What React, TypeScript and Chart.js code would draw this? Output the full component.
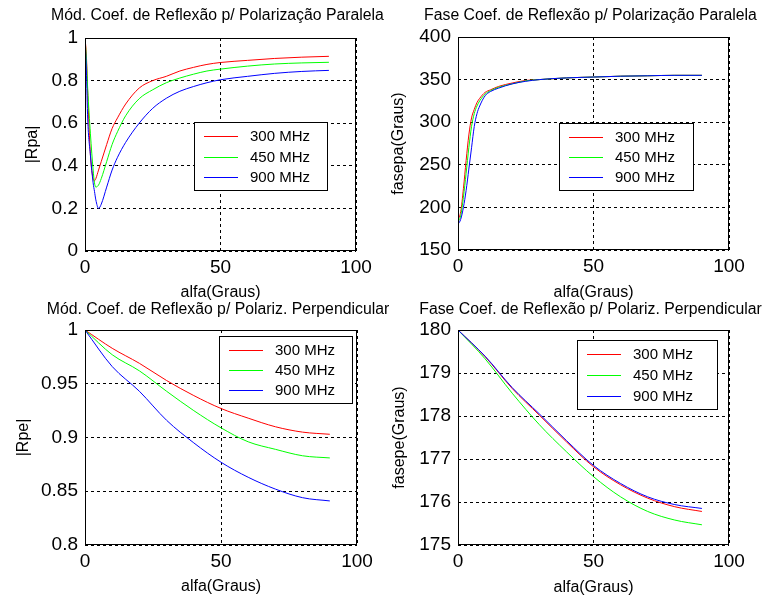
import React, { useEffect, useRef } from "react";
import { Chart, registerables } from "chart.js";

Chart.register(...registerables);

const FONT = '"Liberation Sans", Arial, Helvetica, sans-serif';

// ---------- shared ----------
const seriesLabels = ["300 MHz", "450 MHz", "900 MHz"];
const seriesColors = ["#ff0000", "#00ff00", "#0000ff"];
const xTickValues = [0, 50, 100];
const xAxisTitle = "alfa(Graus)";

// ---------- panel 1: |Rpa| ----------
const alfaRpa = [0, 0.5, 1, 2, 3, 3.5, 4, 5, 6, 8, 10, 12, 15, 20, 25, 30, 35, 40, 45, 50, 60, 70, 80, 90];
const rpa300 = [1.0, 0.92, 0.74, 0.45, 0.34, 0.33, 0.34, 0.38, 0.42, 0.5, 0.575, 0.625, 0.69, 0.765, 0.8, 0.82, 0.845, 0.862, 0.876, 0.885, 0.895, 0.904, 0.91, 0.914];
const rpa450 = [1.0, 0.9, 0.76, 0.55, 0.38, 0.32, 0.3, 0.31, 0.34, 0.42, 0.5, 0.56, 0.635, 0.715, 0.757, 0.79, 0.812, 0.83, 0.845, 0.854, 0.868, 0.878, 0.883, 0.886];
const rpa900 = [1.0, 0.85, 0.62, 0.45, 0.32, 0.28, 0.24, 0.2, 0.22, 0.3, 0.38, 0.44, 0.51, 0.6, 0.67, 0.717, 0.75, 0.772, 0.79, 0.804, 0.82, 0.834, 0.843, 0.848];
const rpaTicks = [0, 0.2, 0.4, 0.6, 0.8, 1];

// ---------- panel 2: fasepa ----------
const alfaFpa = [0, 1, 2, 3, 4, 5, 6, 7, 8, 10, 12, 15, 20, 25, 30, 40, 50, 60, 70, 80, 90];
const fpa300 = [185, 195, 222, 255, 285, 305, 315, 323, 328, 335, 338, 342, 346, 349, 350, 352, 353, 354, 354.5, 355, 355];
const fpa450 = [183, 190, 212, 240, 270, 295, 310, 319, 325, 333, 337, 341, 345, 348.5, 350, 352, 353, 354, 354.5, 355, 355];
const fpa900 = [180, 186, 200, 220, 245, 270, 295, 310, 319, 331, 336, 340, 345, 348, 350, 352, 353, 354, 354.5, 355, 355];
const fpaTicks = [150, 200, 250, 300, 350, 400];

// ---------- panel 3: |Rpe| ----------
const alfaRpe = [0, 10, 20, 30, 40, 50, 60, 70, 80, 90];
const rpe300 = [1, 0.983, 0.969, 0.953, 0.939, 0.927, 0.918, 0.91, 0.905, 0.903];
const rpe450 = [1, 0.977, 0.962, 0.943, 0.925, 0.909, 0.896, 0.889, 0.883, 0.881];
const rpe900 = [1, 0.966, 0.943, 0.916, 0.895, 0.877, 0.863, 0.852, 0.844, 0.841];
const rpeTicks = [0.8, 0.85, 0.9, 0.95, 1];

// ---------- panel 4: fasepe ----------
const alfaFpe = [0, 10, 20, 30, 40, 50, 60, 70, 80, 90];
const fpe300 = [180, 179.38, 178.64, 178.02, 177.4, 176.82, 176.4, 176.09, 175.89, 175.78];
const fpe450 = [180, 179.33, 178.53, 177.8, 177.17, 176.59, 176.12, 175.78, 175.58, 175.47];
const fpe900 = [180, 179.39, 178.66, 178.05, 177.43, 176.85, 176.43, 176.12, 175.94, 175.85];
const fpeTicks = [175, 176, 177, 178, 179, 180];

const panels = [
  {
    pos: { left: 0, top: 0, width: 420, height: 305 },
    area: { l: 85, r: 356, t: 38, b: 251 },
    title: "Mód. Coef. de Reflexão p/ Polarização Paralela",
    titleY: 16,
    yTitle: "|Rpa|",
    yTitleX: 33,
    xTitleY: 293,
    x: alfaRpa,
    ys: [rpa300, rpa450, rpa900],
    yTicks: rpaTicks,
    legend: { x: 194, y: 122, w: 134, h: 69 },
  },
  {
    pos: { left: 382, top: 0, width: 383, height: 305 },
    area: { l: 76, r: 347, t: 37, b: 250 },
    title: "Fase Coef. de Reflexão p/ Polarização Paralela",
    titleY: 16,
    yTitle: "fasepa(Graus)",
    yTitleX: 17,
    xTitleY: 293,
    x: alfaFpa,
    ys: [fpa300, fpa450, fpa900],
    yTicks: fpaTicks,
    legend: { x: 177, y: 123, w: 135, h: 68 },
  },
  {
    pos: { left: 0, top: 297, width: 420, height: 298 },
    area: { l: 85, r: 357, t: 33, b: 248 },
    title: "Mód. Coef. de Reflexão p/ Polariz. Perpendicular",
    titleY: 13,
    yTitle: "|Rpe|",
    yTitleX: 24,
    xTitleY: 290,
    x: alfaRpe,
    ys: [rpe300, rpe450, rpe900],
    yTicks: rpeTicks,
    legend: { x: 219, y: 39, w: 134, h: 68 },
  },
  {
    pos: { left: 382, top: 297, width: 383, height: 298 },
    area: { l: 76, r: 347, t: 33, b: 248 },
    title: "Fase Coef. de Reflexão p/ Polariz. Perpendicular",
    titleY: 13,
    yTitle: "fasepe(Graus)",
    yTitleX: 18,
    xTitleY: 291,
    x: alfaFpe,
    ys: [fpe300, fpe450, fpe900],
    yTicks: fpeTicks,
    legend: { x: 195, y: 43, w: 141, h: 70 },
  },
];

type Panel = (typeof panels)[number];

const matlabPlugin = {
  id: "matlabDecor",
  afterDraw(chart: any, _args: any, opts: any) {
    const p: Panel = opts.panel;
    const { ctx, chartArea: a } = chart;
    ctx.save();
    ctx.setLineDash([]);
    // axes box
    ctx.strokeStyle = "#000";
    ctx.lineWidth = 1;
    const l = Math.round(a.left) + 0.5;
    const t = Math.round(a.top) + 0.5;
    const r = Math.round(a.right) - 0.5;
    const b = Math.round(a.bottom) - 0.5;
    ctx.strokeRect(l, t, r - l, b - t);

    ctx.fillStyle = "#000";
    // title
    ctx.font = `15.8px ${FONT}`;
    ctx.textAlign = "center";
    ctx.textBaseline = "middle";
    ctx.fillText(p.title, (a.left + a.right) / 2 - 3, p.titleY);
    // x title
    ctx.font = `16px ${FONT}`;
    ctx.fillText(xAxisTitle, (a.left + a.right) / 2, p.xTitleY);
    // y title
    ctx.save();
    ctx.translate(p.yTitleX, (a.top + a.bottom) / 2);
    ctx.rotate(-Math.PI / 2);
    ctx.fillText(p.yTitle, 0, 0);
    ctx.restore();

    // legend
    const lg = p.legend;
    ctx.fillStyle = "#fff";
    ctx.fillRect(lg.x, lg.y, lg.w, lg.h);
    ctx.strokeStyle = "#000";
    ctx.lineWidth = 1;
    ctx.strokeRect(lg.x + 0.5, lg.y + 0.5, lg.w - 1, lg.h - 1);
    ctx.font = `15px ${FONT}`;
    ctx.textAlign = "left";
    ctx.textBaseline = "middle";
    const fr = [0.2, 0.5, 0.8];
    seriesLabels.forEach((label, i) => {
      const yy = Math.round(lg.y + lg.h * fr[i]);
      ctx.fillStyle = seriesColors[i];
      ctx.fillRect(lg.x + 10, yy, 34, 1);
      ctx.fillStyle = "#000";
      ctx.fillText(label, lg.x + 56, yy + 0.5);
    });
    ctx.restore();
  },
};

function SubPlot({ panel }: { panel: Panel }) {
  const ref = useRef<HTMLCanvasElement | null>(null);
  useEffect(() => {
    const canvas = ref.current;
    if (!canvas) return;
    const { width, height } = panel.pos;
    const a = panel.area;
    const yMin = panel.yTicks[0];
    const yMax = panel.yTicks[panel.yTicks.length - 1];
    const chart = new Chart(canvas, {
      type: "line",
      data: {
        datasets: panel.ys.map((ys, i) => ({
          label: seriesLabels[i],
          data: panel.x.map((x, j) => ({ x, y: ys[j] })),
          borderColor: seriesColors[i],
          backgroundColor: seriesColors[i],
          borderWidth: 1,
          pointRadius: 0,
          fill: false,
          cubicInterpolationMode: "monotone" as const,
          order: 3 - i,
        })),
      },
      options: {
        responsive: false,
        maintainAspectRatio: false,
        devicePixelRatio: 1,
        animation: false,
        events: [],
        layout: { padding: { left: 0, top: a.t, right: width - a.r, bottom: 0 } },
        plugins: {
          legend: { display: false },
          tooltip: { enabled: false },
          title: { display: false },
          matlabDecor: { panel },
        } as any,
        scales: {
          x: {
            type: "linear",
            min: 0,
            max: 100,
            afterBuildTicks: (s: any) => {
              s.ticks = xTickValues.map((v) => ({ value: v }));
            },
            afterFit: (s: any) => {
              s.height = height - a.b;
            },
            grid: { color: "#000", lineWidth: 1, drawTicks: false },
            border: { display: false, dash: [3, 3] },
            ticks: {
              color: "#000",
              font: { family: FONT, size: 19 },
              padding: 5,
              maxRotation: 0,
              autoSkip: false,
              callback: (v: any) => String(v),
            },
          },
          y: {
            type: "linear",
            min: yMin,
            max: yMax,
            afterBuildTicks: (s: any) => {
              s.ticks = panel.yTicks.map((v) => ({ value: v }));
            },
            afterFit: (s: any) => {
              s.width = a.l;
            },
            grid: { color: "#000", lineWidth: 1, drawTicks: false },
            border: { display: false, dash: [3, 3] },
            ticks: {
              color: "#000",
              font: { family: FONT, size: 19 },
              padding: 7,
              autoSkip: false,
              callback: (v: any) => String(v),
            },
          },
        },
      },
      plugins: [matlabPlugin],
    });
    return () => chart.destroy();
  }, [panel]);
  const { left, top, width, height } = panel.pos;
  return (
    <canvas
      ref={ref}
      width={width}
      height={height}
      style={{ position: "absolute", left, top, width, height }}
    />
  );
}

export default function App() {
  return (
    <div
      style={{
        position: "absolute",
        left: 0,
        top: 0,
        width: 765,
        height: 595,
        background: "#fff",
        overflow: "hidden",
      }}
    >
      {panels.map((p, i) => (
        <SubPlot key={i} panel={p} />
      ))}
    </div>
  );
}
